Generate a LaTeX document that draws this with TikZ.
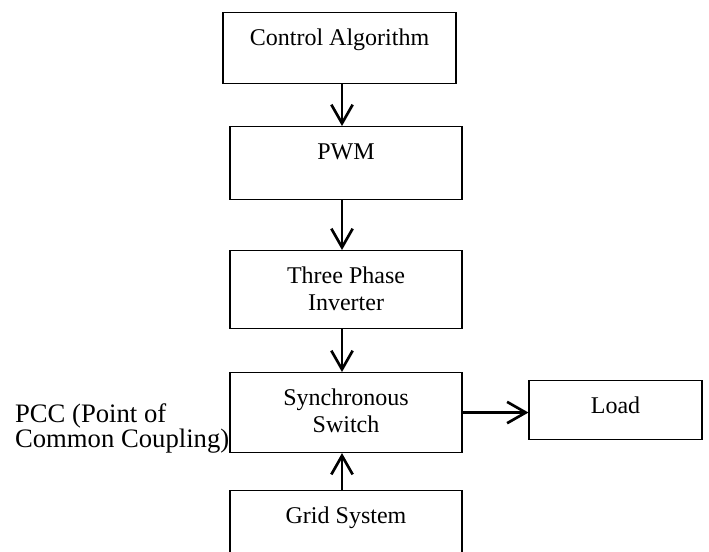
\documentclass[tikz,border=0pt]{standalone}
\usepackage{fontspec}
\setmainfont{Liberation Serif}
\usepackage{tikz}
\usetikzlibrary{arrows.meta}
\tikzset{
  % node options
  block/.style={rectangle,draw,line width=0.8pt,inner sep=0pt,
    minimum width=174pt,align=center,anchor=north,
    font=\fontsize{18}{20.25}\selectfont,text height=24.75pt},
  twoline/.style={block,text height=45pt},
  pcc/.style={align=left,inner sep=0pt,anchor=south east,
    font=\fontsize{20}{18.5}\selectfont},
  % path options
  flow/.style={line width=2pt,-{Straight Barb[length=14pt,width=16pt,line width=2pt]}},
}

\begin{document}
\begin{tikzpicture}[x=0.75pt,y=-0.75pt]
  \clip (0,0) rectangle (709,551);
  \node[block,minimum width=174.75pt,text depth=28.5pt] (ctrl) at (339.5,12) {Control Algorithm};
  \node[block,text depth=30pt] (pwm) at (346,126) {PWM};
  \node[twoline,text depth=13.5pt] (inverter) at (346,250) {Three Phase\\Inverter};
  \node[twoline,text depth=15pt] (switch) at (346,372) {Synchronous\\Switch};
  \node[block,minimum width=129.75pt,text depth=19.5pt] (load) at (615.5,380) {Load};
  \node[block,text depth=28.5pt] (grid) at (346,490) {Grid System};
  \node[pcc] (pcc) at (switch.south west) {PCC (Point of\\Common Coupling)};
  \coordinate (spine) at (342,0);
  \draw[flow] (ctrl.south -| spine) to (pwm.north -| spine);
  \draw[flow] (pwm.south -| spine) to (inverter.north -| spine);
  \draw[flow] (inverter.south -| spine) to (switch.north -| spine);
  \draw[flow] (grid.north -| spine) to (switch.south -| spine);
  \draw[flow] (switch.east) to (switch.east -| load.west);
\end{tikzpicture}
\end{document}
